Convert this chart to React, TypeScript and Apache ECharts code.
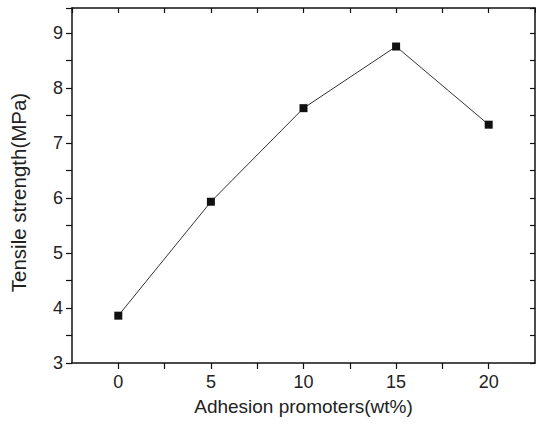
import React, { useEffect, useRef } from "react";
import * as echarts from "echarts";

const promoterContent = [0, 5, 10, 15, 20];
const tensileStrength = [3.86, 5.93, 7.63, 8.75, 7.33];
const xTitle = "Adhesion promoters(wt%)";
const yTitle = "Tensile strength(MPa)";

export default function App() {
  const ref = useRef<HTMLDivElement>(null);
  useEffect(() => {
    if (!ref.current) return;
    const chart = echarts.init(ref.current, null, { renderer: "svg" });
    const font = "Liberation Sans, Arial, sans-serif";
    const axisLine = { show: true, onZero: false, lineStyle: { color: "#111", width: 1.5 } };
    const tickStyle = { color: "#111", width: 1.2 };
    chart.setOption({
      animation: false,
      backgroundColor: "#fff",
      grid: { left: 67, top: 8, right: 1, bottom: 62, containLabel: false },
      xAxis: [
        {
          type: "value",
          min: -2.5,
          max: 22.5,
          interval: 2.5,
          position: "bottom",
          name: xTitle,
          nameLocation: "middle",
          nameGap: 34,
          nameTextStyle: { fontFamily: font, fontSize: 19, color: "#222", verticalAlign: "top" },
          axisLine,
          axisTick: { show: true, inside: false, length: 6, lineStyle: tickStyle },
          axisLabel: {
            fontFamily: font,
            fontSize: 18,
            color: "#222",
            margin: 10,
            showMinLabel: false,
            showMaxLabel: false,
            formatter: (v: number) => (v % 5 === 0 ? String(v) : ""),
          },
          splitLine: { show: false },
        },
        {
          type: "value",
          min: -2.5,
          max: 22.5,
          interval: 2.5,
          position: "top",
          axisLine,
          axisTick: { show: true, inside: true, length: 5, lineStyle: tickStyle },
          axisLabel: { show: false },
          splitLine: { show: false },
        },
      ],
      yAxis: [
        {
          type: "value",
          min: 3,
          max: 9.45,
          interval: 0.5,
          position: "left",
          name: yTitle,
          nameLocation: "middle",
          nameGap: 43,
          nameTextStyle: { fontFamily: font, fontSize: 20.5, color: "#222", padding: [0, 14, 0, 0] },
          axisLine,
          axisTick: { show: true, inside: false, length: 6, lineStyle: tickStyle },
          axisLabel: {
            fontFamily: font,
            fontSize: 18,
            color: "#222",
            margin: 9,
            formatter: (v: number) => (Math.abs(v - Math.round(v)) < 1e-6 ? String(Math.round(v)) : ""),
          },
          splitLine: { show: false },
        },
        {
          type: "value",
          min: 3,
          max: 9.45,
          interval: 0.5,
          position: "right",
          axisLine,
          axisTick: { show: true, inside: true, length: 5, lineStyle: tickStyle },
          axisLabel: { show: false },
          splitLine: { show: false },
        },
      ],
      series: [
        {
          type: "line",
          xAxisIndex: 0,
          yAxisIndex: 0,
          data: promoterContent.map((x, i) => [x, tensileStrength[i]]),
          symbol: "rect",
          symbolSize: 8,
          lineStyle: { color: "#333", width: 1 },
          itemStyle: { color: "#111" },
        },
      ],
    });
    return () => chart.dispose();
  }, []);
  return <div ref={ref} style={{ width: 536, height: 425, position: "absolute", left: 0, top: 0 }} />;
}
